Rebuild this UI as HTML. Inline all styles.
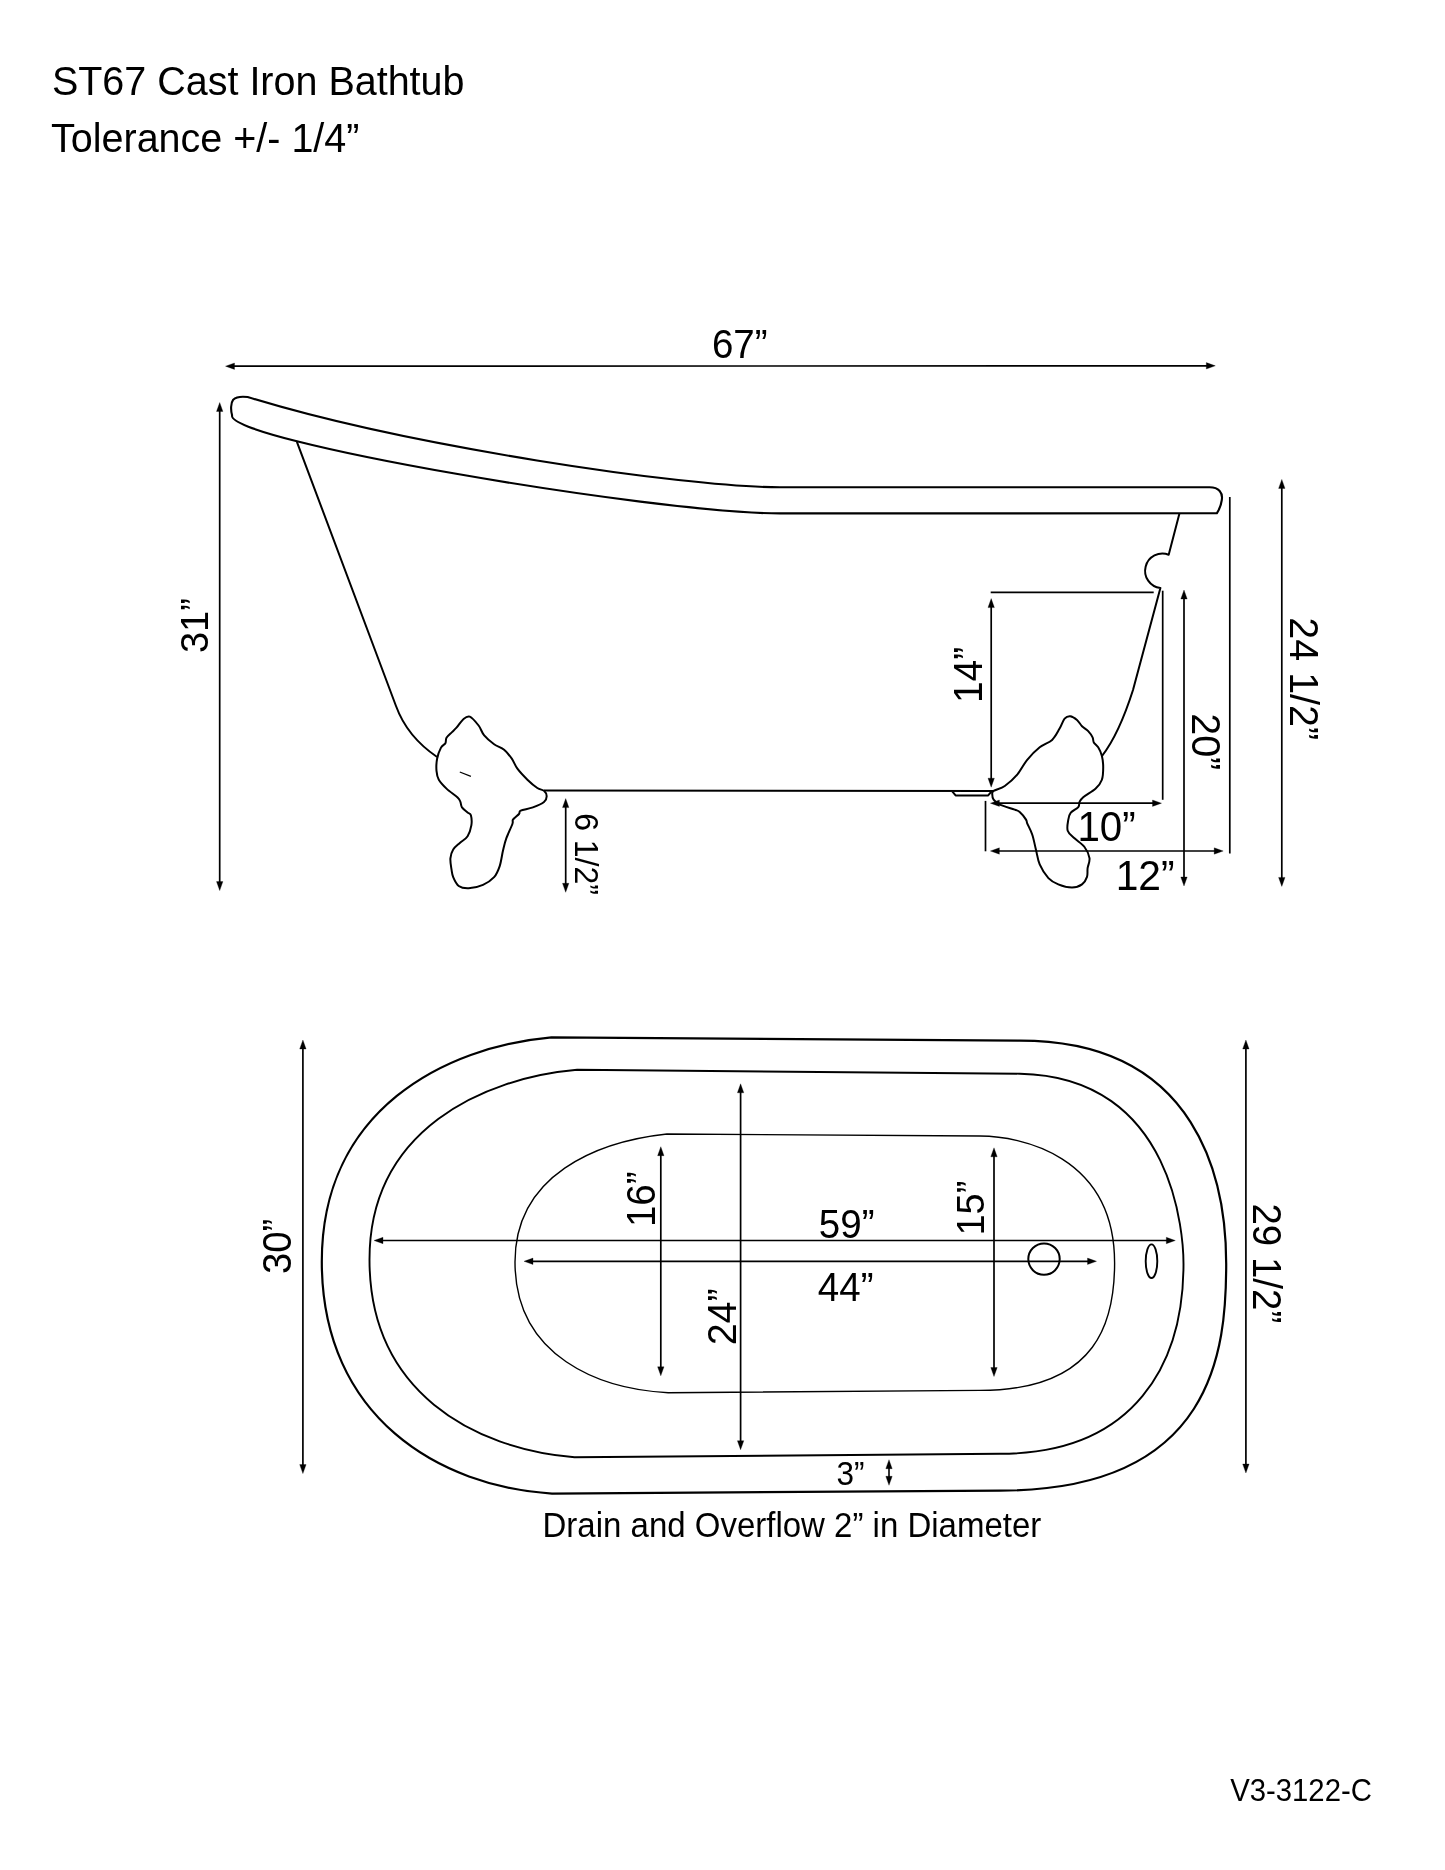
<!DOCTYPE html>
<html><head><meta charset="utf-8"><style>
html,body{margin:0;padding:0;background:#fff;width:1445px;height:1870px;overflow:hidden}
svg{display:block;will-change:transform}
text{font-family:"Liberation Sans",sans-serif;fill:#000;stroke:none}
</style></head><body>
<svg width="1445" height="1870" viewBox="0 0 1445 1870" stroke="#000" fill="#000" stroke-linecap="butt" stroke-linejoin="round">
<g>
<text transform="translate(51.88 95.37) scale(1 1.040)" font-size="39.5">ST67 Cast Iron Bathtub</text>
<text transform="translate(51.07 152.22) scale(1 1.040)" font-size="39.5">Tolerance +/- 1/4”</text>
<text transform="translate(1230.20 1800.58) scale(1 1.040)" font-size="29.3">V3-3122-C</text>
<text transform="translate(542.55 1537.20) scale(1 1.040)" font-size="33">Drain and Overflow 2” in Diameter</text>
<path d="M247.6 397 C405.7 445.9 683.6 487.3 780 487.3 L1209.6 487.3 C1219 487.3 1223 493 1221.8 500 C1221 506 1219 510 1216.8 513.3 L780 513.4 C654.4 513.4 224.7 440.5 232.1 415.2 C230.5 410 230.8 403 233.2 399.7 C236.5 396.5 242 396.3 247.6 397 Z" fill="none" stroke-width="2.1"/>
<path d="M296.9 441.8 L396 706 C404 728 418 744 437.1 757" fill="none" stroke-width="2"/>
<path d="M1179.5 513.2 L1168.7 554.7 A17.3 17.3 0 1 0 1160.4 588 L1133 690 C1126 712 1116 738 1101.9 756.1" fill="none" stroke-width="2"/>
<path d="M544 790.6 L993.6 790.9 M951.8 790.9 L955.6 795.4 L988.2 795.4 L992 790.9" fill="none" stroke-width="2"/>
<path d="M469.8 716.6 C472.4 717.6 476.2 722.4 478.6 725.5 C481 728.6 481.6 732.3 484.2 735.4 C486.8 738.5 490.8 741.9 494.1 744.3 C497.4 746.7 501.2 747.4 504.1 749.8 C507.1 752.2 509.6 755.6 511.8 758.7 C514 761.9 514.8 765.2 517.4 768.7 C520 772.2 524.1 776.5 527.4 779.7 C530.7 782.9 534.5 786.1 537.3 788 C540.1 789.9 542.4 789.4 544 790.8 C545.6 792.2 546.7 794.4 546.7 796.3 C546.7 798.1 546.3 800 544 801.9 C541.7 803.8 536.8 805.9 532.9 807.4 C529 808.9 523 809.6 520.7 810.7 C518.4 811.8 520.3 812.5 519 814 C517.7 815.5 514.1 817.9 513 819.6 C511.9 821.3 513.5 820.9 512.4 824 C511.3 827.1 507.9 834 506.3 838.4 C504.7 842.8 504.1 846 503 850.6 C501.9 855.2 501.2 861.7 499.7 866.1 C498.2 870.5 496.9 874.1 494.1 877.2 C491.3 880.3 487.2 883 483 884.9 C478.8 886.8 472.8 888.1 468.7 888.3 C464.6 888.5 461.3 887.9 458.7 886 C456.1 884.1 454.4 880 453.2 877.2 C452 874.4 452 872.5 451.5 869.4 C451 866.3 450.1 861.7 450.4 858.4 C450.7 855.1 451.6 852.1 453.2 849.5 C454.8 846.9 457.4 845.1 459.8 842.9 C462.2 840.7 465.7 839.2 467.6 836.2 C469.5 833.2 470.8 828.6 471.4 825.1 C471.9 821.6 471.5 817.3 470.9 815.2 C470.3 813.1 469.1 813.7 467.6 812.4 C466.1 811.1 463.2 809.1 462 807.4 C460.8 805.6 461.1 803.5 460.4 801.9 C459.7 800.2 459.9 799.7 457.6 797.5 C455.3 795.3 449.6 791.6 446.5 788.6 C443.4 785.6 440.5 782.7 438.8 779.7 C437.1 776.8 436.8 774.4 436.5 770.9 C436.2 767.4 436.4 762.6 437.1 758.7 C437.9 754.8 439.6 750.2 441 747.6 C442.4 745 444.5 744.9 445.4 743.2 C446.3 741.6 445.4 739.6 446.5 737.7 C447.6 735.9 450.3 733.8 452 732.1 C453.7 730.4 454.6 729.8 456.5 727.7 C458.4 725.6 460.9 721.2 463.1 719.4 C465.3 717.5 467.2 715.6 469.8 716.6Z" fill="none" stroke-width="2"/>
<path d="M459.8 772 L470.9 776.4" fill="none" stroke-width="1.2"/>
<path d="M993.6 790.9 C995.7 789.4 1000.9 788.7 1004.8 786 C1008.7 783.3 1013.5 779.1 1017.2 774.7 C1020.9 770.3 1023.5 764.4 1027.2 759.8 C1031 755.2 1035.6 750.6 1039.7 747.3 C1043.8 744 1048.8 743 1052.1 739.9 C1055.4 736.8 1057.5 732.1 1059.6 728.6 C1061.7 725.1 1062.8 720.8 1064.6 718.7 C1066.4 716.6 1068.1 716 1070.2 716.2 C1072.3 716.4 1075 718.2 1077 719.9 C1079 721.6 1080.1 724.3 1082 726.2 C1083.9 728.1 1086.4 729.2 1088.2 731.1 C1090 733 1091.7 735.5 1092.6 737.4 C1093.5 739.3 1092.9 740.8 1093.8 742.4 C1094.7 744 1096.8 745 1098.2 747.3 C1099.6 749.6 1101.1 752.8 1101.9 756.1 C1102.7 759.4 1103.2 763.4 1103.2 767.3 C1103.2 771.2 1103.2 776.2 1101.9 779.7 C1100.7 783.2 1098.8 785.5 1095.7 788.4 C1092.6 791.3 1085.9 794.9 1083.2 797.2 C1080.5 799.5 1080.3 800.5 1079.5 802.1 C1078.7 803.8 1079.8 805.3 1078.3 807.1 C1076.8 808.9 1072.5 810.6 1070.8 812.7 C1069.1 814.8 1068.8 816.6 1068.3 819.6 C1067.8 822.6 1066.7 827.7 1067.7 830.8 C1068.7 833.9 1071.7 835.6 1074.5 838.3 C1077.3 841 1082 843.7 1084.5 847 C1087 850.3 1089 854.7 1089.5 858.2 C1090 861.7 1088 865.1 1087.6 868.2 C1087.2 871.3 1087.9 874.2 1087 876.9 C1086.1 879.6 1084.5 882.6 1082 884.4 C1079.5 886.2 1076 887.5 1072 887.5 C1068 887.5 1062.2 886 1058.3 884.4 C1054.4 882.8 1051.5 881.4 1048.4 878.1 C1045.3 874.8 1041.8 869.2 1039.7 864.4 C1037.6 859.6 1037.2 854.5 1035.9 849.5 C1034.7 844.5 1033.7 838.9 1032.2 834.5 C1030.8 830.1 1028.2 825.8 1027.2 823.3 C1026.2 820.8 1027.2 821.5 1026 819.6 C1024.8 817.7 1021.6 813.8 1019.7 812.1 C1017.8 810.4 1018 810.9 1014.7 809.6 C1011.4 808.4 1003.3 806.2 999.8 804.6 C996.3 803 994.9 801.4 993.6 799.7 C992.4 798.1 992.3 796.2 992.3 794.7 C992.3 793.2 991.5 792.4 993.6 790.9Z" fill="none" stroke-width="2"/>
<line x1="230.9" y1="366.2" x2="1209.9" y2="365.8" stroke-width="1.7"/><path stroke-width="0.3" d="M1215.3 365.8L1206.3 369L1206.3 362.6Z"/><path stroke-width="0.3" d="M225.5 366.2L234.5 363L234.5 369.4Z"/>
<text transform="translate(711.93 357.97) scale(1 1.040)" font-size="38.5">67”</text>
<line x1="219.7" y1="407.9" x2="219.7" y2="885.2" stroke-width="1.7"/><path stroke-width="0.3" d="M219.7 890.6L216.5 881.6L222.9 881.6Z"/><path stroke-width="0.3" d="M219.7 402.5L222.9 411.5L216.5 411.5Z"/>
<text transform="translate(208.19 653.07) rotate(-90) scale(1 1.040)" font-size="38">31”</text>
<line x1="565.7" y1="804" x2="565.7" y2="886.9" stroke-width="1.7"/><path stroke-width="0.3" d="M565.7 892.3L562.5 883.3L568.9 883.3Z"/><path stroke-width="0.3" d="M565.7 798.6L568.9 807.6L562.5 807.6Z"/>
<text transform="translate(574.77 813.13) rotate(90) scale(1 1.040)" font-size="32">6 1/2”</text>
<line x1="990.7" y1="592.4" x2="1153.7" y2="592.4" stroke-width="1.7"/>
<line x1="991.2" y1="604" x2="991.2" y2="781.8" stroke-width="1.7"/><path stroke-width="0.3" d="M991.2 787.2L988 778.2L994.4 778.2Z"/><path stroke-width="0.3" d="M991.2 598.6L994.4 607.6L988 607.6Z"/>
<text transform="translate(981.65 703.09) rotate(-90) scale(1 1.040)" font-size="39">14”</text>
<line x1="1162.7" y1="590.7" x2="1162.7" y2="799.8" stroke-width="1.7"/>
<line x1="995.8" y1="803.2" x2="1156.1" y2="803.2" stroke-width="1.7"/><path stroke-width="0.3" d="M1161.5 803.2L1152.5 806.4L1152.5 800Z"/><path stroke-width="0.3" d="M990.4 803.2L999.4 800L999.4 806.4Z"/>
<text transform="translate(1077.45 841.34) scale(1 1.040)" font-size="40.3">10”</text>
<line x1="985.5" y1="800.9" x2="985.5" y2="851.3" stroke-width="1.7"/>
<line x1="995.8" y1="851" x2="1217.8" y2="851" stroke-width="1.7"/><path stroke-width="0.3" d="M1223.2 851L1214.2 854.2L1214.2 847.8Z"/><path stroke-width="0.3" d="M990.4 851L999.4 847.8L999.4 854.2Z"/>
<text transform="translate(1115.68 889.76) scale(1 1.040)" font-size="40.8">12”</text>
<line x1="1184" y1="595.4" x2="1184" y2="880.6" stroke-width="1.7"/><path stroke-width="0.3" d="M1184 886L1180.8 877L1187.2 877Z"/><path stroke-width="0.3" d="M1184 590L1187.2 599L1180.8 599Z"/>
<text transform="translate(1192.37 713.20) rotate(90) scale(1 1.040)" font-size="39.5">20”</text>
<line x1="1229.8" y1="497" x2="1229.8" y2="853.5" stroke-width="1.7"/>
<line x1="1281.8" y1="484.8" x2="1281.8" y2="881" stroke-width="1.7"/><path stroke-width="0.3" d="M1281.8 886.4L1278.6 877.4L1285 877.4Z"/><path stroke-width="0.3" d="M1281.8 479.4L1285 488.4L1278.6 488.4Z"/>
<text transform="translate(1290.48 617.26) rotate(90) scale(1 1.040)" font-size="39.5">24 1/2”</text>
<path d="M551.4 1037.3 L1020 1040.7 C1199.9 1040.7 1226.2 1183.5 1226.2 1264 C1226.2 1347.9 1215.6 1490.6 1000 1490.6 L552 1493.6 C440.4 1486.7 321.8 1418.1 321.8 1261.5 C321.8 1109.6 445.3 1046.7 551.4 1037.3Z" fill="none" stroke-width="2.2"/>
<path d="M577.1 1069.8 L1020 1073.7 C1175.9 1076.8 1183.5 1238.4 1183.5 1264 C1183.5 1362.8 1135.6 1453.8 1000 1453.8 L574.5 1457.2 C473 1448.7 369.5 1391.5 369.5 1259.5 C369.5 1129.8 483.5 1077.9 577.1 1069.8Z" fill="none" stroke-width="1.9"/>
<path d="M666.9 1134 L980 1136 C1019 1136 1114.6 1154.5 1114.6 1263 C1114.6 1317.7 1100.1 1390.4 980 1390.4 L668.2 1392.7 C600.4 1389.2 515 1357.3 515 1262 C515 1174.8 596.9 1141.6 666.9 1134Z" fill="none" stroke-width="1.4"/>
<circle cx="1044" cy="1259.1" r="15.7" fill="none" stroke-width="2"/>
<ellipse cx="1151.5" cy="1261.2" rx="5.8" ry="16.8" fill="none" stroke-width="1.9"/>
<line x1="302.9" y1="1045.4" x2="302.9" y2="1468.2" stroke-width="1.7"/><path stroke-width="0.3" d="M302.9 1473.6L299.7 1464.6L306.1 1464.6Z"/><path stroke-width="0.3" d="M302.9 1040L306.1 1049L299.7 1049Z"/>
<text transform="translate(291.40 1274.09) rotate(-90) scale(1 1.040)" font-size="38.3">30”</text>
<line x1="1245.9" y1="1045.4" x2="1245.9" y2="1467.6" stroke-width="1.7"/><path stroke-width="0.3" d="M1245.9 1473L1242.7 1464L1249.1 1464Z"/><path stroke-width="0.3" d="M1245.9 1040L1249.1 1049L1242.7 1049Z"/>
<text transform="translate(1253.21 1203.42) rotate(90) scale(1 1.040)" font-size="38.5">29 1/2”</text>
<line x1="379.4" y1="1240.5" x2="1169.9" y2="1240.5" stroke-width="1.7"/><path stroke-width="0.3" d="M1175.3 1240.5L1166.3 1243.7L1166.3 1237.3Z"/><path stroke-width="0.3" d="M374 1240.5L383 1237.3L383 1243.7Z"/>
<text transform="translate(818.83 1237.52) scale(1 1.040)" font-size="38.5">59”</text>
<line x1="529.4" y1="1261.3" x2="1091.1" y2="1261.3" stroke-width="1.7"/><path stroke-width="0.3" d="M1096.5 1261.3L1087.5 1264.5L1087.5 1258.1Z"/><path stroke-width="0.3" d="M524 1261.3L533 1258.1L533 1264.5Z"/>
<text transform="translate(817.87 1301.27) scale(1 1.040)" font-size="38.5">44”</text>
<line x1="660.8" y1="1152.1" x2="660.8" y2="1370.4" stroke-width="1.7"/><path stroke-width="0.3" d="M660.8 1375.8L657.6 1366.8L664 1366.8Z"/><path stroke-width="0.3" d="M660.8 1146.7L664 1155.7L657.6 1155.7Z"/>
<text transform="translate(655.26 1227.09) rotate(-90) scale(1 1.040)" font-size="38.6">16”</text>
<line x1="740.6" y1="1089.2" x2="740.6" y2="1444.3" stroke-width="1.7"/><path stroke-width="0.3" d="M740.6 1449.7L737.4 1440.7L743.8 1440.7Z"/><path stroke-width="0.3" d="M740.6 1083.8L743.8 1092.8L737.4 1092.8Z"/>
<text transform="translate(736.35 1345.37) rotate(-90) scale(1 1.040)" font-size="39.4">24”</text>
<line x1="994" y1="1153.2" x2="994" y2="1371.1" stroke-width="1.7"/><path stroke-width="0.3" d="M994 1376.5L990.8 1367.5L997.2 1367.5Z"/><path stroke-width="0.3" d="M994 1147.8L997.2 1156.8L990.8 1156.8Z"/>
<text transform="translate(984.13 1235.40) rotate(-90) scale(1 1.040)" font-size="37.8">15”</text>
<line x1="889" y1="1465.1" x2="889" y2="1479.9" stroke-width="1.6"/><path stroke-width="0.3" d="M889 1485.3L885.8 1476.3L892.2 1476.3Z"/><path stroke-width="0.3" d="M889 1459.7L892.2 1468.7L885.8 1468.7Z"/>
<text transform="translate(836.58 1485.17) scale(1 1.040)" font-size="31.5">3”</text>
</g>
</svg>
</body></html>
